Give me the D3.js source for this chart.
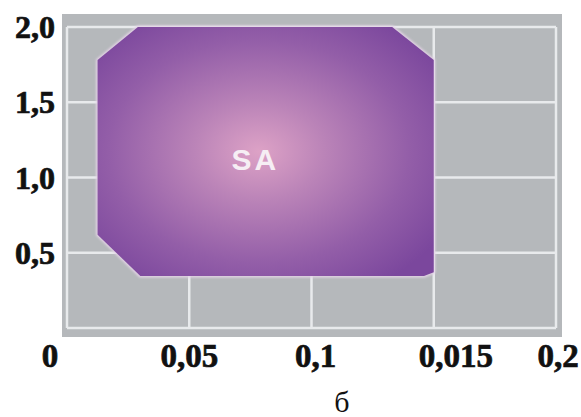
<!DOCTYPE html>
<html>
<head>
<meta charset="utf-8">
<script src="https://cdn.jsdelivr.net/npm/d3@7/dist/d3.min.js"></script>
<style>
  html, body { margin: 0; padding: 0; background: #ffffff; }
  svg { display: block; }
</style>
</head>
<body>
<svg id="chart" width="581" height="417"></svg>
<script>
// ---- data ----
const xTickValues = [0, 0.05, 0.1, 0.15, 0.2];
const xTickLabels = ["0", "0,05", "0,1", "0,015", "0,2"];
const yTickValues = [0.5, 1.0, 1.5, 2.0];
const yTickLabels = ["0,5", "1,0", "1,5", "2,0"];
const yGridValues = [0, 0.5, 1.0, 1.5, 2.0];
// region outline (x, y) in data units
const regionX = [0.029, 0.133, 0.150, 0.150, 0.146, 0.030, 0.0125, 0.0125];
const regionY = [2.0, 2.0, 1.78, 0.37, 0.345, 0.345, 0.62, 1.78];
const regionLabel = "SA";
const regionLabelX = 0.077;
const regionLabelY = 1.05;
const caption = "б";

// ---- layout ----
const svg = d3.select("#chart");
const x = d3.scaleLinear().domain([0, 0.2]).range([67, 556]);
const y = d3.scaleLinear().domain([0, 2]).range([328, 27]);

// panel
svg.append("rect")
  .attr("x", x(0) - 5).attr("y", y(2) - 13)
  .attr("width", x(0.2) - x(0) + 11)
  .attr("height", y(0) - y(2) + 22)
  .attr("fill", "#b5b8bb");

// grid
const grid = svg.append("g").attr("stroke", "#e8eaec").attr("stroke-width", 2.5);
grid.selectAll("line.v").data(xTickValues).join("line")
  .attr("class", "v")
  .attr("x1", d => x(d)).attr("x2", d => x(d))
  .attr("y1", y(2)).attr("y2", y(0));
grid.selectAll("line.h").data(yGridValues).join("line")
  .attr("class", "h")
  .attr("x1", x(0)).attr("x2", x(0.2))
  .attr("y1", d => y(d)).attr("y2", d => y(d));

// gradient
const defs = svg.append("defs");
const grad = defs.append("radialGradient")
  .attr("id", "regionGrad")
  .attr("cx", 0.48).attr("cy", 0.5).attr("r", 0.64)
  .attr("fx", 0.48).attr("fy", 0.5);
grad.append("stop").attr("offset", "0%").attr("stop-color", "#dda2c6");
grad.append("stop").attr("offset", "30%").attr("stop-color", "#bb84b8");
grad.append("stop").attr("offset", "70%").attr("stop-color", "#935ea8");
grad.append("stop").attr("offset", "100%").attr("stop-color", "#7b479d");

const blur = defs.append("filter").attr("id", "soft")
  .attr("x", "-5%").attr("y", "-5%").attr("width", "110%").attr("height", "110%");
blur.append("feGaussianBlur").attr("stdDeviation", 0.8);

const pts = regionX.map((v, i) => [x(v), y(regionY[i])]);
const line = d3.line().curve(d3.curveLinearClosed);

svg.append("path")
  .attr("d", line(pts))
  .attr("fill", "none")
  .attr("stroke", "#e3d3e6")
  .attr("stroke-width", 3)
  .attr("stroke-linejoin", "round")
  .attr("filter", "url(#soft)");
svg.append("path")
  .attr("d", line(pts))
  .attr("fill", "url(#regionGrad)")
  .attr("stroke", "none");

svg.append("text")
  .attr("x", x(regionLabelX)).attr("y", y(regionLabelY))
  .attr("text-anchor", "middle")
  .attr("font-family", "'Liberation Sans', Arial, sans-serif")
  .attr("font-weight", "bold")
  .attr("font-size", 30)
  .attr("letter-spacing", 3)
  .attr("fill", "#f6eef4")
  .text(regionLabel);

const serif = "'Liberation Serif', 'Times New Roman', serif";

// y labels
svg.append("g").selectAll("text").data(yTickValues).join("text")
  .attr("x", 55)
  .attr("y", d => y(d) + 11)
  .attr("text-anchor", "end")
  .attr("font-family", serif)
  .attr("font-weight", "bold")
  .attr("font-size", 32)
  .attr("fill", "#111")
  .attr("stroke", "#111")
  .attr("stroke-width", 0.7)
  .text((d, i) => yTickLabels[i]);

// x labels
const xLabelShift = [-17, 0, 4, 22, 2];
svg.append("g").selectAll("text").data(xTickValues).join("text")
  .attr("x", (d, i) => x(d) + xLabelShift[i])
  .attr("y", 367)
  .attr("text-anchor", "middle")
  .attr("font-family", serif)
  .attr("font-weight", "bold")
  .attr("font-size", 33)
  .attr("fill", "#111")
  .attr("stroke", "#111")
  .attr("stroke-width", 0.7)
  .text((d, i) => xTickLabels[i]);

// caption
svg.append("text")
  .attr("x", 342).attr("y", 412)
  .attr("text-anchor", "middle")
  .attr("font-family", serif)
  .attr("font-size", 30)
  .attr("fill", "#111")
  .text(caption);
</script>
</body>
</html>
